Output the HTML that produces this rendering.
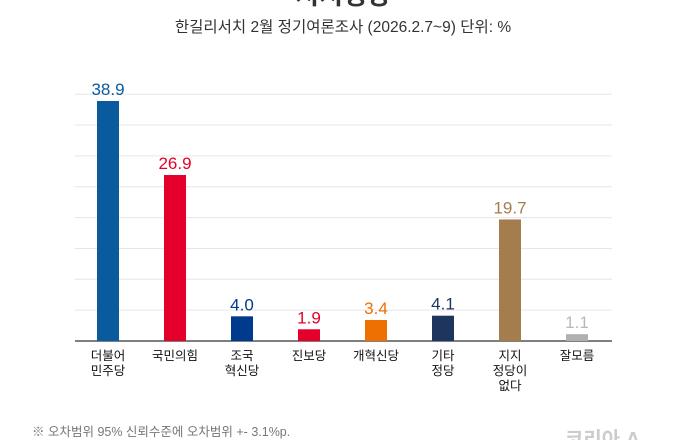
<!DOCTYPE html>
<html><head><meta charset="utf-8"><style>
body{margin:0;background:#fff;width:686px;height:440px;overflow:hidden;font-family:"Liberation Sans","Noto Sans CJK KR",sans-serif}
</style></head><body>
<svg width="686" height="440" id="c" font-family="Liberation Sans, Noto Sans CJK KR, sans-serif">
<text x="343" y="4" text-anchor="middle" font-size="26" font-weight="bold" fill="#333">지지정당</text>
<text x="343" y="32" text-anchor="middle" font-size="15.5" fill="#333">한길리서치 2월 정기여론조사 (2026.2.7~9) 단위: %</text>
<g id="grid"></g><g id="bars"></g>
<text x="32" y="436" font-size="12.5" fill="#777">※ 오차범위 95% 신뢰수준에 오차범위 +- 3.1%p.</text>
<text x="565" y="446" font-size="20" font-weight="bold" fill="#ccc">코리아 A</text>
</svg>
<script>
const categories=[["더불어","민주당"],["국민의힘"],["조국","혁신당"],["진보당"],["개혁신당"],["기타","정당"],["지지","정당이","없다"],["잘모름"]];
const values=[38.9,26.9,4.0,1.9,3.4,4.1,19.7,1.1];
const colors=["#0a5a9e","#e4002b","#003a8c","#e4002b","#ee7000","#1e355e","#a57c4e","#b0b0b0"];
const labelColors=["#0a5a9e","#e4002b","#003a8c","#e4002b","#ee7000","#1e355e","#a57c4e","#b8b8b8"];
const gridTicks=[5,10,15,20,25,30,35,40];
const NS="http://www.w3.org/2000/svg";
const base=341, k=6.17;
const y=v=>base-v*k;
const x=i=>108+i*67;
function mk(t,a,p){const e=document.createElementNS(NS,t);for(const n in a)e.setAttribute(n,a[n]);p.appendChild(e);return e;}
const g=document.getElementById('grid'),b=document.getElementById('bars');
gridTicks.forEach(t=>{const l=mk('line',{x1:75,x2:612,y1:y(t),y2:y(t),stroke:'#e6e6e6','stroke-width':1},g);

});
const ax=mk('line',{x1:75,x2:612,y1:base,y2:base,stroke:'#333','stroke-width':1.2},g);


values.forEach((v,i)=>{
const r=mk('rect',{x:x(i)-11,y:y(v),width:22,height:v*k,fill:colors[i]},b);


const t=mk('text',{x:x(i),y:y(v)-6,'text-anchor':'middle','font-size':17,fill:labelColors[i]},b);
t.textContent=v.toFixed(1);


categories[i].forEach((s,j)=>{const c=mk('text',{x:x(i),y:360+j*15,'text-anchor':'middle','font-size':12.5,fill:'#111'},b);
c.textContent=s;

});
});
</script>
</body></html>
